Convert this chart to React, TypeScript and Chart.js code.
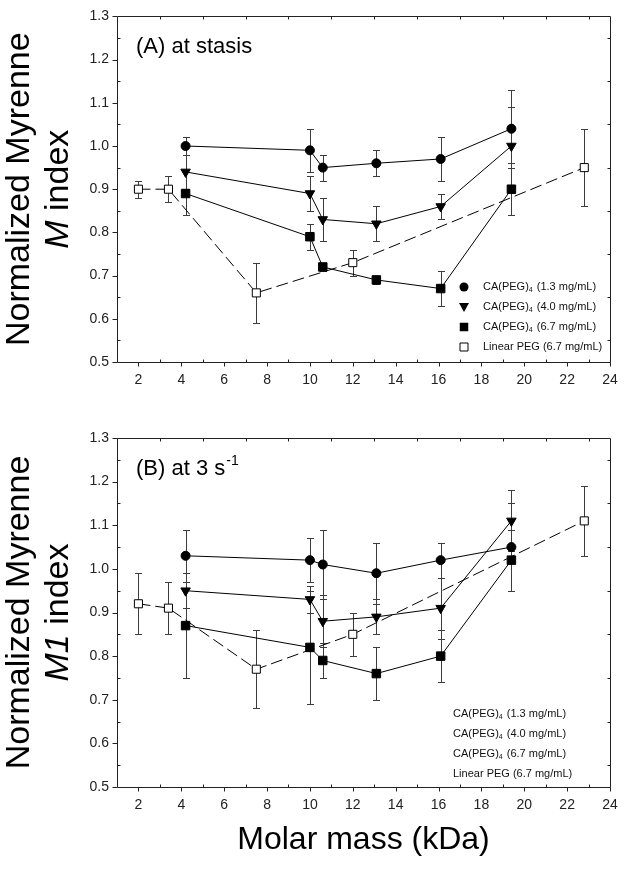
import React, { useEffect, useRef } from 'react';
import { Chart, registerables } from 'chart.js';

Chart.register(...registerables);

const FONT = '"Liberation Sans", Arial, Helvetica, sans-serif';

// Molar mass (kDa)
const massCA = [4.2, 10.0, 10.6, 13.1, 16.1, 19.4];
const massLinear = [2.0, 3.4, 7.5, 12.0, 22.8];

// (A) at stasis
const stasis13 = [1.0, 0.99, 0.95, 0.96, 0.97, 1.04];
const stasis13Err = [0.02, 0.05, 0.03, 0.03, 0.05, 0.09];
const stasis40 = [0.94, 0.89, 0.83, 0.82, 0.86, 1.0];
const stasis40Err = [0.04, 0.04, 0.05, 0.04, 0.03, 0.09];
const stasis67 = [0.89, 0.79, 0.72, 0.69, 0.67, 0.9];
const stasis67Err = [0.05, 0.03, 0.01, 0.01, 0.04, 0.06];
const stasisLin = [0.9, 0.9, 0.66, 0.73, 0.95];
const stasisLinErr = [0.02, 0.03, 0.07, 0.03, 0.09];

// (B) at 3 s-1
const shear13 = [1.03, 1.02, 1.01, 0.99, 1.02, 1.05];
const shear13Err = [0.06, 0.05, 0.08, 0.07, 0.04, 0.1];
const shear40 = [0.95, 0.93, 0.88, 0.89, 0.91, 1.11];
const shear40Err = [0.04, 0.03, 0.06, 0.04, 0.07, 0.07];
const shear67 = [0.87, 0.82, 0.79, 0.76, 0.8, 1.02];
const shear67Err = [0.12, 0.13, 0.04, 0.06, 0.06, 0.07];
const shearLin = [0.92, 0.91, 0.77, 0.85, 1.11];
const shearLinErr = [0.07, 0.06, 0.09, 0.05, 0.08];

const xTickValues = [2, 4, 6, 8, 10, 12, 14, 16, 18, 20, 22, 24];
const xMinorValues = [3, 5, 7, 9, 11, 13, 15, 17, 19, 21, 23];
const yTickValues = [0.5, 0.6, 0.7, 0.8, 0.9, 1.0, 1.1, 1.2, 1.3];
const yMinorValues = [0.55, 0.65, 0.75, 0.85, 0.95, 1.05, 1.15, 1.25];

const legendConc = ['1.3', '4.0', '6.7'];
const legendLinear = 'Linear PEG (6.7 mg/mL)';
const yTitleLine1 = 'Normalized Myrenne';
const xTitle = 'Molar mass (kDa)';

type Style = 'circle' | 'triangle' | 'rect' | 'open';
type Series = { x: number[]; y: number[]; err: number[]; style: Style; dashed?: boolean };
type PanelSpec = {
  label: string;
  sup?: string;
  yItalic: string;
  series: Series[];
  legendMarkers: boolean;
  height: number;
  padTop: number;
  xAxisH: number;
  showXTitle: boolean;
};

const panelA: PanelSpec = {
  label: '(A) at stasis',
  yItalic: 'M',
  series: [
    { x: massCA, y: stasis13, err: stasis13Err, style: 'circle' },
    { x: massCA, y: stasis40, err: stasis40Err, style: 'triangle' },
    { x: massCA, y: stasis67, err: stasis67Err, style: 'rect' },
    { x: massLinear, y: stasisLin, err: stasisLinErr, style: 'open', dashed: true },
  ],
  legendMarkers: true,
  height: 400,
  padTop: 13,
  xAxisH: 38,
  showXTitle: false,
};

const panelB: PanelSpec = {
  label: '(B) at 3 s',
  sup: '-1',
  yItalic: 'M1',
  series: [
    { x: massCA, y: shear13, err: shear13Err, style: 'circle' },
    { x: massCA, y: shear40, err: shear40Err, style: 'triangle' },
    { x: massCA, y: shear67, err: shear67Err, style: 'rect' },
    { x: massLinear, y: shearLin, err: shearLinErr, style: 'open', dashed: true },
  ],
  legendMarkers: false,
  height: 471,
  padTop: 38,
  xAxisH: 84,
  showXTitle: true,
};

function drawMarker(ctx: CanvasRenderingContext2D, style: Style, x: number, y: number) {
  ctx.save();
  ctx.fillStyle = '#000';
  ctx.strokeStyle = '#000';
  ctx.lineWidth = 1;
  ctx.beginPath();
  if (style === 'circle') {
    ctx.arc(x, y, 4.5, 0, Math.PI * 2);
    ctx.fill();
  } else if (style === 'triangle') {
    ctx.moveTo(x - 5, y - 4);
    ctx.lineTo(x + 5, y - 4);
    ctx.lineTo(x, y + 5);
    ctx.closePath();
    ctx.fill();
  } else if (style === 'rect') {
    ctx.rect(x - 4.25, y - 4.25, 8.5, 8.5);
    ctx.fill();
  } else {
    ctx.fillStyle = '#fff';
    ctx.rect(x - 4, y - 4, 8, 8);
    ctx.fill();
    ctx.stroke();
  }
  ctx.restore();
}

function drawCAText(ctx: CanvasRenderingContext2D, conc: string, x: number, y: number) {
  ctx.font = `11px ${FONT}`;
  ctx.fillText('CA(PEG)', x, y);
  let w = ctx.measureText('CA(PEG)').width;
  ctx.font = `7px ${FONT}`;
  ctx.fillText('4', x + w, y + 3);
  w += ctx.measureText('4').width + 1;
  ctx.font = `11px ${FONT}`;
  ctx.fillText(` (${conc} mg/mL)`, x + w, y);
}

function makeDecor(spec: PanelSpec) {
  return {
    id: 'decor',
    beforeDatasetsDraw(chart: any) {
      const { ctx } = chart;
      const xs = chart.scales.x;
      const ys = chart.scales.y;
      ctx.save();
      ctx.strokeStyle = '#3c3c3c';
      ctx.lineWidth = 1;
      spec.series.forEach((s) => {
        s.x.forEach((xv, i) => {
          const px = Math.round(xs.getPixelForValue(xv)) + 0.5;
          const yt = Math.round(ys.getPixelForValue(s.y[i] + s.err[i])) + 0.5;
          const yb = Math.round(ys.getPixelForValue(s.y[i] - s.err[i])) + 0.5;
          ctx.beginPath();
          ctx.moveTo(px, yt);
          ctx.lineTo(px, yb);
          ctx.moveTo(px - 3.5, yt);
          ctx.lineTo(px + 3.5, yt);
          ctx.moveTo(px - 3.5, yb);
          ctx.lineTo(px + 3.5, yb);
          ctx.stroke();
        });
      });
      ctx.restore();
    },
    afterDraw(chart: any) {
      const { ctx, chartArea } = chart;
      const xs = chart.scales.x;
      const ys = chart.scales.y;
      const L = Math.round(chartArea.left) + 0.5;
      const R = Math.round(chartArea.right) + 0.5;
      const T = Math.round(chartArea.top) + 0.5;
      const B = Math.round(chartArea.bottom) + 0.5;
      ctx.save();
      ctx.strokeStyle = '#222';
      ctx.lineWidth = 1;
      ctx.beginPath();
      ctx.rect(L, T, R - L, B - T);
      yTickValues.forEach((v) => {
        const y = Math.round(ys.getPixelForValue(v)) + 0.5;
        ctx.moveTo(L - 5, y);
        ctx.lineTo(L, y);
      });
      yMinorValues.forEach((v) => {
        const y = Math.round(ys.getPixelForValue(v)) + 0.5;
        ctx.moveTo(L, y);
        ctx.lineTo(L + 3, y);
        ctx.moveTo(R - 3, y);
        ctx.lineTo(R, y);
      });
      xTickValues.forEach((v) => {
        const x = Math.round(xs.getPixelForValue(v)) + 0.5;
        ctx.moveTo(x, B);
        ctx.lineTo(x, B + 4);
      });
      xMinorValues.forEach((v) => {
        const x = Math.round(xs.getPixelForValue(v)) + 0.5;
        ctx.moveTo(x, B);
        ctx.lineTo(x, B - 3);
        ctx.moveTo(x, T);
        ctx.lineTo(x, T + 3);
      });
      ctx.stroke();

      // y title
      const cy = (chartArea.top + chartArea.bottom) / 2;
      ctx.fillStyle = '#000';
      ctx.textBaseline = 'middle';
      ctx.save();
      ctx.translate(20, cy);
      ctx.rotate(-Math.PI / 2);
      ctx.font = `34px ${FONT}`;
      ctx.textAlign = 'center';
      ctx.fillText(yTitleLine1, 0, 0);
      ctx.restore();
      ctx.save();
      ctx.translate(59, cy);
      ctx.rotate(-Math.PI / 2);
      ctx.textAlign = 'left';
      ctx.font = `italic 34px ${FONT}`;
      const wi = ctx.measureText(spec.yItalic).width;
      ctx.font = `34px ${FONT}`;
      const wn = ctx.measureText(' index').width;
      const start = -(wi + wn) / 2;
      ctx.font = `italic 34px ${FONT}`;
      ctx.fillText(spec.yItalic, start, 0);
      ctx.font = `34px ${FONT}`;
      ctx.fillText(' index', start + wi, 0);
      ctx.restore();

      // panel label
      ctx.textAlign = 'left';
      ctx.font = `22px ${FONT}`;
      ctx.fillText(spec.label, chartArea.left + 19, chartArea.top + 31);
      if (spec.sup) {
        const w = ctx.measureText(spec.label).width;
        ctx.font = `14px ${FONT}`;
        ctx.fillText(spec.sup, chartArea.left + 19 + w + 1, chartArea.top + 23);
      }

      // legend
      const styles: Style[] = ['circle', 'triangle', 'rect', 'open'];
      const textX = chartArea.left + (spec.legendMarkers ? 366 : 336);
      for (let i = 0; i < 4; i++) {
        const y = chartArea.bottom - (spec.legendMarkers ? 75 : 73) + i * 20;
        if (spec.legendMarkers) drawMarker(ctx, styles[i], chartArea.left + 347, y);
        ctx.fillStyle = '#111';
        if (i < 3) drawCAText(ctx, legendConc[i], textX, y);
        else {
          ctx.font = `11px ${FONT}`;
          ctx.fillText(legendLinear, textX, y);
        }
      }

      if (spec.showXTitle) {
        ctx.fillStyle = '#000';
        ctx.textAlign = 'center';
        ctx.font = `32px ${FONT}`;
        ctx.fillText(xTitle, (chartArea.left + chartArea.right) / 2, chartArea.bottom + 53);
      }
      ctx.restore();
    },
  };
}

function buildConfig(spec: PanelSpec): any {
  const pointStyles: Record<Style, any> = {
    circle: { pointStyle: 'circle', pointRadius: 4.5, bg: '#000', rot: 0 },
    triangle: { pointStyle: 'triangle', pointRadius: 5.5, bg: '#000', rot: 180 },
    rect: { pointStyle: 'rect', pointRadius: 6, bg: '#000', rot: 0 },
    open: { pointStyle: 'rect', pointRadius: 5.7, bg: '#fff', rot: 0 },
  };
  return {
    type: 'scatter',
    data: {
      datasets: spec.series.map((s) => {
        const p = pointStyles[s.style];
        return {
          data: s.x.map((x, i) => ({ x, y: s.y[i] })),
          showLine: true,
          borderColor: '#000',
          borderWidth: 1,
          borderDash: s.dashed ? [12, 5] : [],
          pointStyle: p.pointStyle,
          pointRadius: p.pointRadius,
          pointRotation: p.rot,
          pointBackgroundColor: p.bg,
          pointBorderColor: '#000',
          pointBorderWidth: 1,
          tension: 0,
          fill: false,
        };
      }),
    },
    options: {
      responsive: false,
      animation: false,
      layout: { padding: { top: spec.padTop, right: 22, left: 0, bottom: 0 } },
      plugins: { legend: { display: false }, tooltip: { enabled: false } },
      scales: {
        x: {
          type: 'linear',
          min: 1,
          max: 24,
          afterBuildTicks: (axis: any) => {
            axis.ticks = xTickValues.map((v) => ({ value: v }));
          },
          afterFit: (s: any) => {
            s.height = spec.xAxisH;
          },
          grid: { display: false, drawTicks: false },
          border: { display: false },
          ticks: {
            color: '#222',
            font: { family: FONT, size: 14 },
            padding: 10,
            maxRotation: 0,
            autoSkip: false,
            callback: (v: number) => String(v),
          },
        },
        y: {
          type: 'linear',
          min: 0.5,
          max: 1.3,
          afterBuildTicks: (axis: any) => {
            axis.ticks = yTickValues.map((v) => ({ value: v }));
          },
          afterFit: (s: any) => {
            s.width = 117;
          },
          grid: { display: false, drawTicks: false },
          border: { display: false },
          ticks: {
            color: '#222',
            font: { family: FONT, size: 14 },
            padding: 8,
            autoSkip: false,
            callback: (v: number) => v.toFixed(1),
          },
        },
      },
    },
    plugins: [makeDecor(spec)],
  };
}

function Panel({ spec, top }: { spec: PanelSpec; top: number }) {
  const ref = useRef<HTMLCanvasElement>(null);
  useEffect(() => {
    const chart = new Chart(ref.current as HTMLCanvasElement, buildConfig(spec));
    return () => chart.destroy();
  }, [spec]);
  return (
    <div style={{ position: 'absolute', left: 0, top, width: 632, height: spec.height }}>
      <canvas ref={ref} width={632} height={spec.height} style={{ display: 'block' }} />
    </div>
  );
}

export default function App() {
  return (
    <div style={{ position: 'fixed', left: 0, top: 0, width: 632, height: 871, background: '#fff' }}>
      <Panel spec={panelA} top={0} />
      <Panel spec={panelB} top={400} />
    </div>
  );
}
